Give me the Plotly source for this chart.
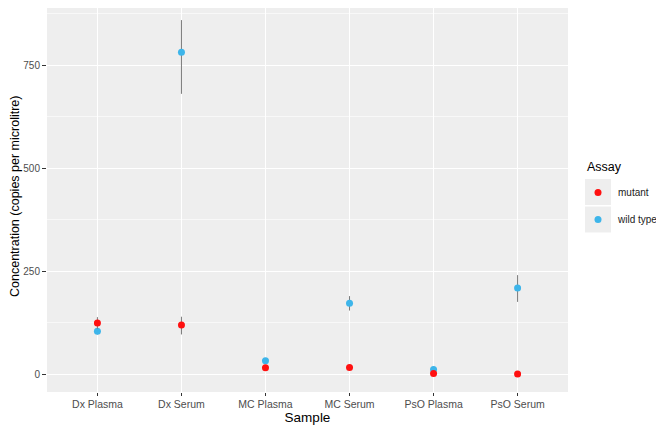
import plotly.graph_objects as go

samples = ["Dx Plasma", "Dx Serum", "MC Plasma", "MC Serum", "PsO Plasma", "PsO Serum"]
mutant = [124, 119, 15, 16, 1, 0]
mutant_low = [110, 96, 12, 13, 0, 0]
mutant_high = [138, 139, 18, 19, 3, 2]
wild = [104, 781, 32, 172, 11, 209]
wild_low = [96, 680, 28, 154, 8, 175]
wild_high = [112, 859, 36, 189, 14, 240]
y_ticks = [0, 250, 500, 750]

RED = "#FF1010"
BLUE = "#3DB5EA"
ERR = "#7A7A7A"

OFF = 8  # page body margin
W, H = 664 - OFF, 429 - OFF
# panel in page pixels: x 47..568, y 2..392
L, R, T, B = 47 - OFF, 664 - 568, 0, 429 - 392
pw, ph = W - L - R, H - T - B


def px_x(x):
    return (x - OFF - L) / pw


def px_y(y):
    return (H - B - (y - OFF)) / ph


fig = go.Figure()
fig.add_trace(go.Scatter(
    x=samples, y=wild, mode="markers", name="wild type", legendrank=2, legendgroup="w",
    marker=dict(color=BLUE, size=7),
    error_y=dict(type="data", symmetric=False,
                 array=[h - v for h, v in zip(wild_high, wild)],
                 arrayminus=[v - l for v, l in zip(wild, wild_low)],
                 color=ERR, thickness=1, width=0)))
fig.add_trace(go.Scatter(
    x=samples, y=mutant, mode="markers", name="mutant", legendrank=1, legendgroup="m",
    marker=dict(color=RED, size=7),
    error_y=dict(type="data", symmetric=False,
                 array=[h - v for h, v in zip(mutant_high, mutant)],
                 arrayminus=[v - l for v, l in zip(mutant, mutant_low)],
                 color=ERR, thickness=1, width=0)))

# grey legend key boxes (ggplot style)
for y0, y1 in [(179, 205), (206.5, 232.5)]:
    fig.add_shape(type="rect", xref="paper", yref="paper",
                  x0=px_x(585), x1=px_x(611),
                  y0=px_y(y1), y1=px_y(y0),
                  fillcolor="#EEEEEE", line=dict(width=0), layer="below")

fig.add_annotation(text="Assay", xref="paper", yref="paper",
                   x=px_x(585), y=px_y(167), xanchor="left", yanchor="middle",
                   showarrow=False, font=dict(size=12.5, color="black"))

fig.add_annotation(text="Concentration (copies per microlitre)", xref="paper", yref="paper",
                   x=px_x(15), y=px_y(197), xanchor="center", yanchor="middle",
                   textangle=-90, showarrow=False, font=dict(size=12.5, color="black"))

per_px = 750 / (374 - 65)
y_top = (374 - (T + OFF)) * per_px
y_bot = -(392 - 374) * per_px

fig.update_layout(
    width=W, height=H,
    margin=dict(l=L, r=R, t=T, b=B, autoexpand=False),
    paper_bgcolor="white", plot_bgcolor="#EEEEEE",
    font=dict(family="Liberation Sans, Arial, sans-serif", color="black"),
    showlegend=True,
    legend=dict(font=dict(size=10, color="#222222"),
                xref="container", yref="container",
                x=(578 - OFF) / W, xanchor="left",
                y=1 - (178 - OFF) / H, yanchor="top",
                bgcolor="rgba(0,0,0,0)", tracegroupgap=8,
                itemwidth=30),
    xaxis=dict(
        title=dict(text="Sample", font=dict(size=13.5, color="black"), standoff=3),
        automargin=False,
        categoryorder="array", categoryarray=samples,
        range=[-0.6, 5.6],
        showgrid=True, gridcolor="white", gridwidth=1.2,
        ticks="outside", ticklen=3, tickcolor="#333333", tickwidth=1,
        ticklabelstandoff=-1,
        tickfont=dict(size=10.5, color="#4D4D4D"),
        zeroline=False, showline=False),
    yaxis=dict(
        automargin=False,
        range=[y_bot, y_top],
        tickvals=y_ticks, ticktext=[str(v) for v in y_ticks],
        showgrid=True, gridcolor="white", gridwidth=1.2,
        minor=dict(dtick=125, tick0=125, showgrid=True, gridcolor="#F8F8F8",
                   gridwidth=0.6, ticks=""),
        ticks="outside", ticklen=4, tickcolor="#333333", tickwidth=1,
        tickfont=dict(size=10, color="#4D4D4D"),
        zeroline=False, showline=False),
)

fig.write_html("out.html")
